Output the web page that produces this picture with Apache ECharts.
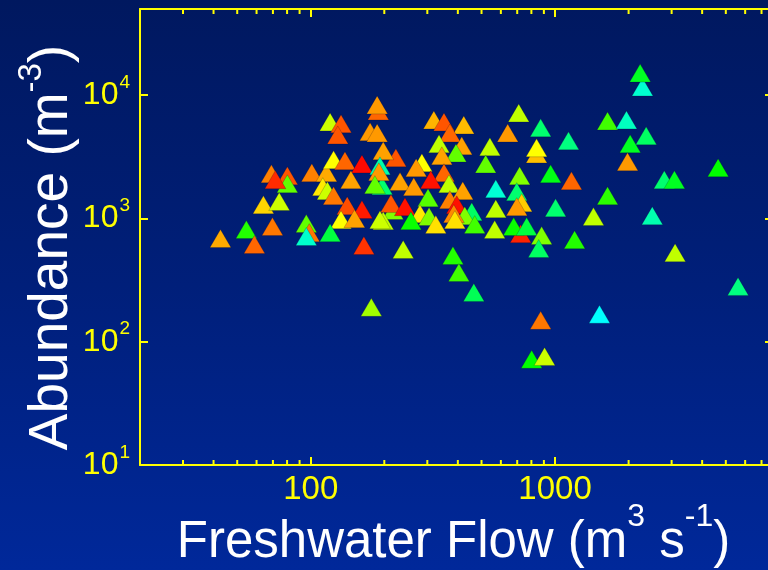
<!DOCTYPE html>
<html>
<head>
<meta charset="utf-8">
<script src="https://cdn.jsdelivr.net/npm/echarts@6/dist/echarts.min.js"></script>
<style>
html,body{margin:0;padding:0;}
#chart{width:768px;height:570px;background:linear-gradient(to bottom,#00185f 0%,#001f7a 50%,#00289a 100%);}
</style>
</head>
<body>
<div id="chart"></div>
<script>
// Freshwater flow (m3 s-1)
const flow = [2280,2230,1640,1960,2360,2030,1980,1135,1167,2800,3080,4650,1640,1005,1436,2500,1202,3100,5610,1520,959,
  710,873,640,541,840,840,520,716,572,697,730,697,572,723,677,765,881,857,382,239,
  319,351,423,371,335,415,393,344,223,285,270,351,310,232,368,264,196,419,302,371,396,217,213,243,280,305,456,427,385,389,257,198,325,469,
  120,133,129,189,187,175,187,198,101,116,124,138,162,112,117,124,146,141,162,133,151,192,192,190,183,
  69,80.2,80.2,71.6,64,74.3,54.5,69.7,42.7,58.8,95.9,98.6,95.9,120,165,
  404,465,177,873,802,906,566];
// Abundance (m-3)
const abundance = [11650,15100,6180,6300,4680,4030,2880,4260,2020,2060,2060,2580,1530,1220,1035,1054,673,528,281,167,2300,
  7180,5430,4940,3810,3340,3740,2770,2220,1740,1650,1340,1245,1200,753,859,859,726,570,500,560,
  6300,6070,5740,4940,4030,3880,3400,3220,3100,2830,2580,2350,2060,1990,1910,1810,1840,1680,1470,1420,1290,1160,1320,1245,1094,1035,1135,1054,1094,977,960,960,891,891,
  6070,5850,4760,7450,8340,5040,4940,3540,2350,2350,2990,2940,2770,1810,1680,1530,2060,1270,1180,977,996,977,2670,2390,1880,
  2300,2220,1910,2060,1290,1370,812,859,687,614,908,767,713,767,603,
  364,251,190,149,72,76,812];
// Third variable shown by colour (0 = red ... 180 = cyan)
const colorValue = [169,128,105,165,143,128,36,150,24,146,128,120,110,146,75,161,112,75,150,180,125,
  75,146,36,75,45,60,97,90,170,146,48,36,75,8,118,135,90,143,112,75,
  42,20,44,24,75,38,97,38,20,60,36,24,4,38,75,36,146,38,100,30,4,90,20,4,55,90,143,90,32,53,118,75,53,105,
  72,20,20,24,36,36,36,38,30,40,60,24,2,55,72,28,38,18,6,60,38,72,160,36,97,
  30,20,97,10,50,72,112,28,40,24,97,28,168,135,12,
  105,140,82,28,120,72,75];

const xLabelValues = [100, 1000];
const xMinorTickValues = [30,40,50,60,70,80,90,200,300,400,500,600,700,800,900,2000,3000,4000,5000,6000,7000];
const yLabelValues = [10, 100, 1000, 10000];

const X_MIN = 20, X_MAX = 7800, Y_MIN = 10, Y_MAX = 50000;
const YELLOW = '#ffff00';
const FONT = 'Liberation Sans, Arial, sans-serif';

const points = flow.map((f, i) => [f, abundance[i], colorValue[i]]);
const minorData = xMinorTickValues.map(v => [v, Y_MIN]);

const chart = echarts.init(document.getElementById('chart'), null, {renderer: 'canvas'});

const baseAxisLine = {show: true, onZero: false, lineStyle: {color: YELLOW, width: 2}};

chart.setOption({
  backgroundColor: 'transparent',
  animation: false,
  grid: {left: 140, right: -5, top: 9, bottom: 105, containLabel: false, outerBoundsMode: 'none'},
  visualMap: {
    show: false, type: 'continuous', seriesIndex: 0, dimension: 2, min: 0, max: 180,
    inRange: {color: ['#ff0000','#ff8000','#ffff00','#80ff00','#00ff00','#00ff80','#00ffff']}
  },
  xAxis: [{
    type: 'log', logBase: 10, min: X_MIN, max: X_MAX, position: 'bottom',
    axisLine: baseAxisLine,
    axisTick: {show: true, inside: true, length: 8, lineStyle: {color: YELLOW, width: 2}},
    axisLabel: {
      show: true, color: YELLOW, fontSize: 33, fontFamily: FONT, margin: 8,
      showMinLabel: false, showMaxLabel: false,
      formatter: v => (xLabelValues.indexOf(Math.round(v)) >= 0 ? String(Math.round(v)) : '')
    },
    splitLine: {show: false},
    name: 'Freshwater Flow (m{sup|3} s{sup|-1})',
    nameLocation: 'middle', nameGap: 36, nameMoveOverlap: false,
    nameTextStyle: {
      color: '#ffffff', fontSize: 51, fontFamily: FONT, lineHeight: 84, padding: [0, 6, 0, 0],
      rich: {sup: {color: '#ffffff', fontSize: 32, fontFamily: FONT, lineHeight: 32, verticalAlign: 'top'}}
    }
  }, {
    type: 'log', logBase: 10, min: X_MIN, max: X_MAX, position: 'top',
    axisLine: baseAxisLine,
    axisTick: {show: true, inside: true, length: 8, lineStyle: {color: YELLOW, width: 2}},
    axisLabel: {show: false},
    splitLine: {show: false}
  }],
  yAxis: [{
    type: 'log', logBase: 10, min: Y_MIN, max: Y_MAX, position: 'left',
    axisLine: baseAxisLine,
    axisTick: {show: true, inside: true, length: 8, lineStyle: {color: YELLOW, width: 2}},
    axisLabel: {
      show: true, margin: 10, showMinLabel: true, showMaxLabel: false,
      formatter: v => {
        const e = Math.round(Math.log10(v));
        if (yLabelValues.indexOf(Math.round(v)) < 0) return '';
        return '{b|10}{s|' + e + '}';
      },
      rich: {
        b: {color: YELLOW, fontSize: 32, fontFamily: FONT, lineHeight: 44},
        s: {color: YELLOW, fontSize: 19, fontFamily: FONT, lineHeight: 19, verticalAlign: 'top', padding: [0,0,0,1]}
      }
    },
    splitLine: {show: false},
    name: 'Abundance (m{sup|-3})',
    nameLocation: 'middle', nameGap: 51, nameMoveOverlap: false,
    nameTextStyle: {
      color: '#ffffff', fontSize: 55, fontFamily: FONT, lineHeight: 74, padding: [0, 21, 0, 0],
      rich: {sup: {color: '#ffffff', fontSize: 33, fontFamily: FONT, lineHeight: 33, verticalAlign: 'top'}}
    }
  }, {
    type: 'log', logBase: 10, min: Y_MIN, max: Y_MAX, position: 'right',
    axisLine: baseAxisLine,
    axisTick: {show: true, inside: true, length: 8, lineStyle: {color: YELLOW, width: 2}},
    axisLabel: {show: false},
    splitLine: {show: false}
  }],
  series: [{
    type: 'scatter',
    xAxisIndex: 0, yAxisIndex: 0,
    symbol: 'triangle',
    symbolSize: [21, 18],
    data: points,
    itemStyle: {opacity: 1, borderColor: 'rgba(0,0,40,0.35)', borderWidth: 0.6},
    emphasis: {disabled: true},
    silent: true
  }, {
    type: 'custom',
    xAxisIndex: 0, yAxisIndex: 0,
    data: minorData,
    clip: false,
    silent: true,
    renderItem: (params, api) => {
      const v = api.value(0);
      const bottom = api.coord([v, Y_MIN]);
      const top = api.coord([v, Y_MAX]);
      const style = {stroke: YELLOW, lineWidth: 2};
      return {
        type: 'group',
        children: [
          {type: 'line', shape: {x1: bottom[0], y1: bottom[1], x2: bottom[0], y2: bottom[1] - 5}, style},
          {type: 'line', shape: {x1: top[0], y1: top[1], x2: top[0], y2: top[1] + 5}, style}
        ]
      };
    }
  }]
});
</script>
</body>
</html>
